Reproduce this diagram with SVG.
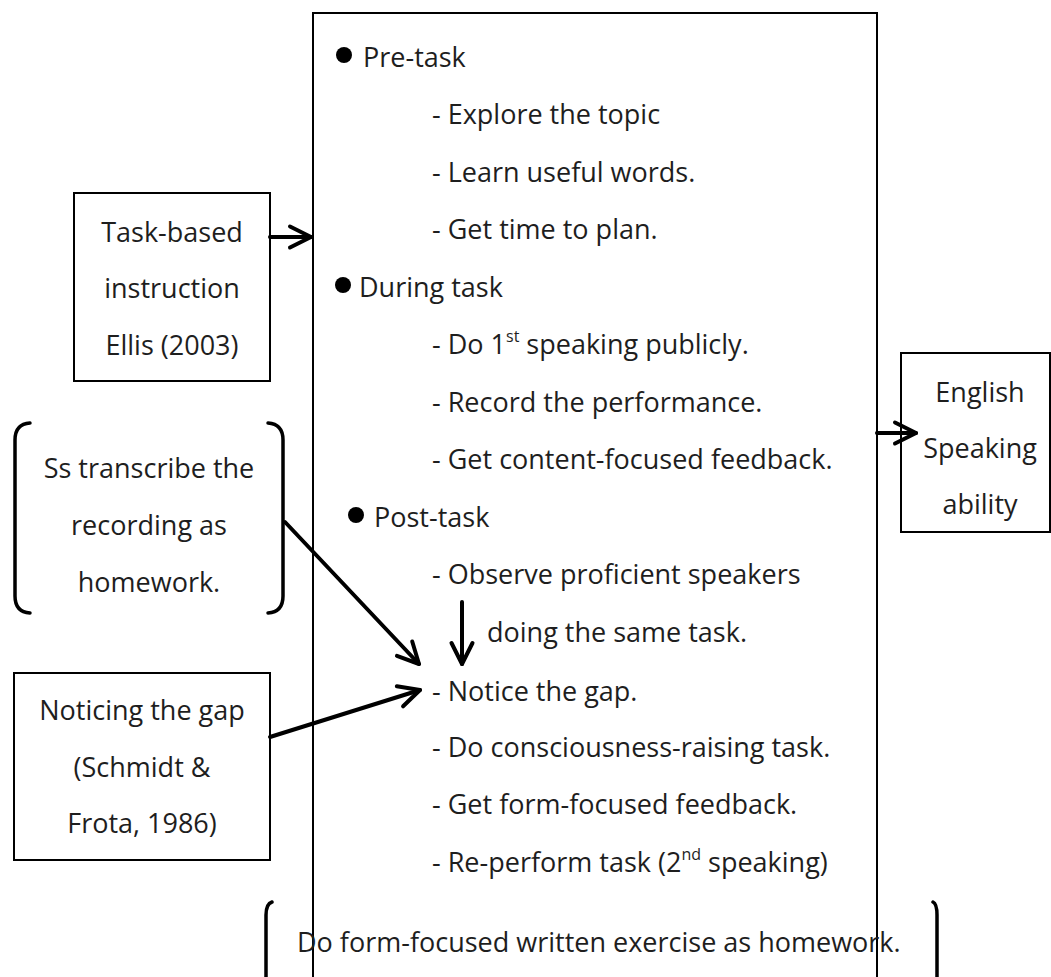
<svg xmlns="http://www.w3.org/2000/svg" width="1051" height="977" viewBox="0 0 1051 977">
<defs>
<marker id="chev" markerUnits="userSpaceOnUse" markerWidth="34" markerHeight="34" viewBox="-28 -16 34 32" refX="0" refY="0" orient="auto">
<path d="M-21,-10.5 L0,0 L-21,10.5" fill="none" stroke="#000" stroke-width="4" stroke-linecap="round" stroke-linejoin="round"/>
</marker>
</defs>
<style>
.box{fill:#fff;stroke:#000;stroke-width:2}
.t{font-family:"Open Sans","Noto Sans","Liberation Sans",sans-serif;font-size:27px;fill:#1e1e1e}
.c{text-anchor:middle}
.sup{font-size:16px}
.br{fill:none;stroke:#000;stroke-width:3.5;stroke-linecap:round}
.ln{fill:none;stroke:#000;stroke-width:4;stroke-linecap:round;marker-end:url(#chev)}
</style>
<rect width="1051" height="977" fill="#fff"/>
<g id="main">
<rect class="box" x="313" y="13" width="564" height="1000"/>
<circle cx="344" cy="55" r="8" fill="#000"/>
<text class="t" x="363" y="67">Pre-task</text>
<text class="t" x="432" y="124">- Explore the topic</text>
<text class="t" x="432" y="182">- Learn useful words.</text>
<text class="t" x="432" y="239">- Get time to plan.</text>
<circle cx="343" cy="285" r="8" fill="#000"/>
<text class="t" x="359" y="297">During task</text>
<text class="t" x="432" y="354">- Do 1<tspan class="sup" dy="-12">st</tspan><tspan dy="12"> speaking publicly.</tspan></text>
<text class="t" x="432" y="412">- Record the performance.</text>
<text class="t" x="432" y="469">- Get content-focused feedback.</text>
<circle cx="356" cy="515" r="8" fill="#000"/>
<text class="t" x="374" y="527">Post-task</text>
<text class="t" x="432" y="584">- Observe proficient speakers</text>
<text class="t" x="487" y="642">doing the same task.</text>
<text class="t" x="432" y="701">- Notice the gap.</text>
<text class="t" x="432" y="757">- Do consciousness-raising task.</text>
<text class="t" x="432" y="814">- Get form-focused feedback.</text>
<text class="t" x="432" y="872">- Re-perform task (2<tspan class="sup" dy="-12">nd</tspan><tspan dy="12"> speaking)</tspan></text>
</g>
<g id="task-based">
<rect class="box" x="74" y="193" width="196" height="188"/>
<text class="t c" x="172" y="242">Task-based</text>
<text class="t c" x="172" y="298">instruction</text>
<text class="t c" x="172" y="355">Ellis (2003)</text>
</g>
<g id="transcribe">
<path class="br" d="M30,423 Q15,424 15,440 L15,596 Q15,612 30,613"/>
<path class="br" d="M268,423 Q283,424 283,440 L283,596 Q283,612 268,613"/>
<text class="t c" x="149" y="478">Ss transcribe the</text>
<text class="t c" x="149" y="535">recording as</text>
<text class="t c" x="149" y="592">homework.</text>
</g>
<g id="noticing">
<rect class="box" x="14" y="673" width="256" height="187"/>
<text class="t c" x="142" y="720">Noticing the gap</text>
<text class="t c" x="142" y="777">(Schmidt &amp;</text>
<text class="t c" x="142" y="833">Frota, 1986)</text>
</g>
<g id="english">
<rect class="box" x="901" y="353" width="149" height="179"/>
<text class="t c" x="980" y="402">English</text>
<text class="t c" x="980" y="458">Speaking</text>
<text class="t c" x="980" y="514">ability</text>
</g>
<g id="homework">
<path class="br" d="M272,902 Q266,904 266,915 L266,990"/>
<path class="br" d="M933,902 Q937,904 937,915 L937,990"/>
<text class="t" x="297" y="952">Do form-focused written exercise as homework.</text>
</g>
<g id="connectors">
<line class="ln" x1="270" y1="237" x2="311" y2="237"/>
<line class="ln" x1="877" y1="433" x2="916" y2="433"/>
<line class="ln" x1="285" y1="522" x2="419" y2="664"/>
<line class="ln" x1="462" y1="602" x2="462" y2="664"/>
<line class="ln" x1="270" y1="737" x2="420" y2="690"/>
</g>
</svg>
